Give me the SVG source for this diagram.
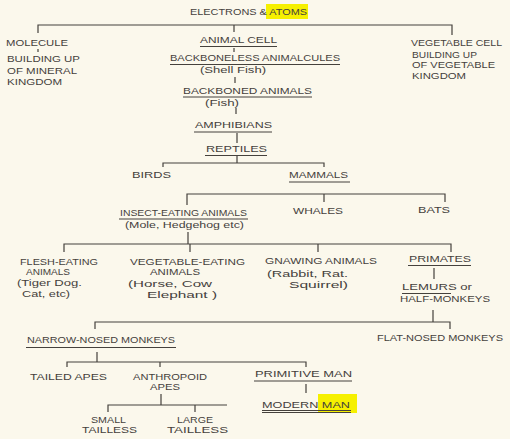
<svg xmlns="http://www.w3.org/2000/svg" width="510" height="439" viewBox="0 0 510 439">
<style>
text{font-family:"Liberation Sans","DejaVu Sans",sans-serif;font-size:9.5px;fill:#45413c;}
.c{stroke:#45413c;stroke-width:1.2;fill:none;}
.u{stroke:#45413c;stroke-width:1;fill:none;}
.hl{fill:#f6f000;}
</style>
<rect width="510" height="439" fill="#fbf8ec"/>
<g id="connectors" class="c">
<path d="M38,33V25H452V35M234,25V32"/>
<path d="M38,49V52"/>
<path d="M234,48V52M235,77V83M236,108V114M237,133V143M237,156V163"/>
<path d="M163,167V163H324V167"/>
<path d="M187,205V194H445V202M324,194V202"/>
<path d="M188,232V244M64,252V244H451V252M190,244V252M318,244V252"/>
<path d="M434,268V279M433,310V322M95,329V322H450V329"/>
<path d="M97,352V362M67,367V362H306V367M160,362V367"/>
<path d="M306,384V393M161,394V405M108,412V405H227M195,405V412"/>
</g>
<g id="n-electrons">
<rect class="hl" x="266" y="4" width="42" height="15"/>
<text x="190" y="15" textLength="117" lengthAdjust="spacingAndGlyphs">ELECTRONS &amp; ATOMS</text>
</g>
<g id="n-molecule">
<text x="6" y="46" textLength="62" lengthAdjust="spacingAndGlyphs">MOLECULE</text>
<text x="7" y="62" textLength="73" lengthAdjust="spacingAndGlyphs">BUILDING UP</text>
<text x="7" y="74" textLength="70" lengthAdjust="spacingAndGlyphs">OF MINERAL</text>
<text x="7" y="85" textLength="55" lengthAdjust="spacingAndGlyphs">KINGDOM</text>
</g>
<g id="n-animal-cell">
<text x="200" y="43" textLength="77" lengthAdjust="spacingAndGlyphs">ANIMAL CELL</text>
<path class="u" d="M200,46.5H277"/>
</g>
<g id="n-vegetable-cell">
<text x="411" y="46" textLength="91" lengthAdjust="spacingAndGlyphs">VEGETABLE CELL</text>
<text x="412" y="58" textLength="65" lengthAdjust="spacingAndGlyphs">BUILDING UP</text>
<text x="412" y="68" textLength="83" lengthAdjust="spacingAndGlyphs">OF VEGETABLE</text>
<text x="412" y="79" textLength="54" lengthAdjust="spacingAndGlyphs">KINGDOM</text>
</g>
<g id="n-backboneless">
<text x="170" y="61" textLength="170" lengthAdjust="spacingAndGlyphs">BACKBONELESS ANIMALCULES</text>
<path class="u" d="M170,64.5H340"/>
<text x="200" y="73" textLength="66" lengthAdjust="spacingAndGlyphs">(Shell Fish)</text>
</g>
<g id="n-backboned">
<text x="183" y="94" textLength="129" lengthAdjust="spacingAndGlyphs">BACKBONED ANIMALS</text>
<path class="u" d="M183,97H312"/>
<text x="205" y="106" textLength="34" lengthAdjust="spacingAndGlyphs">(Fish)</text>
</g>
<g id="n-amphibians">
<text x="195" y="128" textLength="77" lengthAdjust="spacingAndGlyphs">AMPHIBIANS</text>
<path class="u" d="M194,132H272"/>
</g>
<g id="n-reptiles">
<text x="206" y="152" textLength="61" lengthAdjust="spacingAndGlyphs">REPTILES</text>
<path class="u" d="M205,155.5H267"/>
</g>
<g id="n-birds">
<text x="132" y="178" textLength="39" lengthAdjust="spacingAndGlyphs">BIRDS</text>
</g>
<g id="n-mammals">
<text x="289" y="178" textLength="59" lengthAdjust="spacingAndGlyphs">MAMMALS</text>
<path class="u" d="M289,182H350"/>
</g>
<g id="n-insect">
<text x="120" y="216" textLength="127" lengthAdjust="spacingAndGlyphs">INSECT-EATING ANIMALS</text>
<path class="u" d="M119,219H248"/>
<text x="125" y="228" textLength="119" lengthAdjust="spacingAndGlyphs">(Mole, Hedgehog etc)</text>
</g>
<g id="n-whales">
<text x="293" y="214" textLength="50" lengthAdjust="spacingAndGlyphs">WHALES</text>
</g>
<g id="n-bats">
<text x="418" y="213" textLength="32" lengthAdjust="spacingAndGlyphs">BATS</text>
</g>
<g id="n-flesh">
<text x="20" y="265" textLength="78" lengthAdjust="spacingAndGlyphs">FLESH-EATING</text>
<text x="26" y="275" textLength="44" lengthAdjust="spacingAndGlyphs">ANIMALS</text>
<text x="17" y="286" textLength="65" lengthAdjust="spacingAndGlyphs">(Tiger Dog.</text>
<text x="22" y="297" textLength="48" lengthAdjust="spacingAndGlyphs">Cat, etc)</text>
</g>
<g id="n-vegetable-eating">
<text x="130" y="265" textLength="115" lengthAdjust="spacingAndGlyphs">VEGETABLE-EATING</text>
<text x="150" y="275" textLength="50" lengthAdjust="spacingAndGlyphs">ANIMALS</text>
<text x="128" y="287" textLength="84" lengthAdjust="spacingAndGlyphs">(Horse, Cow</text>
<text x="147" y="298" textLength="70" lengthAdjust="spacingAndGlyphs">Elephant )</text>
</g>
<g id="n-gnawing">
<text x="265" y="264" textLength="112" lengthAdjust="spacingAndGlyphs">GNAWING ANIMALS</text>
<text x="267" y="277" textLength="81" lengthAdjust="spacingAndGlyphs">(Rabbit, Rat.</text>
<text x="289" y="288" textLength="59" lengthAdjust="spacingAndGlyphs">Squirrel)</text>
</g>
<g id="n-primates">
<text x="409" y="262" textLength="62" lengthAdjust="spacingAndGlyphs">PRIMATES</text>
<path class="u" d="M408,265.5H471"/>
</g>
<g id="n-lemurs">
<text x="402" y="290" textLength="70" lengthAdjust="spacingAndGlyphs">LEMURS or</text>
<path class="u" d="M402,293.5H451"/>
<text x="400" y="302" textLength="90" lengthAdjust="spacingAndGlyphs">HALF-MONKEYS</text>
</g>
<g id="n-narrow">
<text x="27" y="343" textLength="148" lengthAdjust="spacingAndGlyphs">NARROW-NOSED MONKEYS</text>
<path class="u" d="M26,347.5H176"/>
</g>
<g id="n-flat">
<text x="377" y="341" textLength="126" lengthAdjust="spacingAndGlyphs">FLAT-NOSED MONKEYS</text>
</g>
<g id="n-tailed">
<text x="30" y="380" textLength="77" lengthAdjust="spacingAndGlyphs">TAILED APES</text>
</g>
<g id="n-anthropoid">
<text x="133" y="380" textLength="74" lengthAdjust="spacingAndGlyphs">ANTHROPOID</text>
<text x="150" y="390" textLength="30" lengthAdjust="spacingAndGlyphs">APES</text>
</g>
<g id="n-primitive">
<text x="255" y="377" textLength="97" lengthAdjust="spacingAndGlyphs">PRIMITIVE MAN</text>
<path class="u" d="M254,381H352"/>
</g>
<g id="n-modern">
<rect class="hl" x="318" y="394" width="39" height="19"/>
<text x="262" y="408" textLength="88" lengthAdjust="spacingAndGlyphs">MODERN MAN</text>
<path class="u" d="M262,410.5H351M262,412.5H351"/>
</g>
<g id="n-small">
<text x="91" y="423" textLength="35" lengthAdjust="spacingAndGlyphs">SMALL</text>
<text x="82" y="433" textLength="55" lengthAdjust="spacingAndGlyphs">TAILLESS</text>
</g>
<g id="n-large">
<text x="177" y="423" textLength="36" lengthAdjust="spacingAndGlyphs">LARGE</text>
<text x="167" y="433" textLength="61" lengthAdjust="spacingAndGlyphs">TAILLESS</text>
</g>
</svg>
